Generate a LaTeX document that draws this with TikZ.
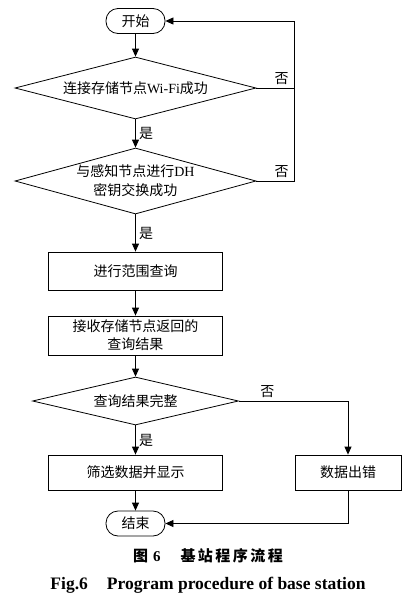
\documentclass[tikz,border=0pt]{standalone}
\usepackage{fontspec}
\setmainfont{Liberation Serif}
\newfontfamily\cjk{Noto Sans CJK SC}
\usetikzlibrary{shapes.geometric,arrows.meta}

\tikzset{
    terminal/.style={
           rectangle,
           rounded corners=12pt,
           draw=black, line width=0.8pt,
           minimum width=59pt,
           minimum height=25pt,
           inner sep=2pt,
           text centered,
           font=\cjk\fontsize{14}{18}\selectfont,
           },
    process/.style={
           rectangle,
           draw=black, line width=0.8pt,
           minimum width=174pt,
           minimum height=36pt,
           inner sep=2pt,
           align=center,
           font=\cjk\fontsize{14}{18}\selectfont,
           },
    decision/.style={
           diamond,
           aspect=3.8,
           draw=black, line width=0.8pt,
           inner sep=0pt,
           align=center,
           font=\cjk\fontsize{14}{19}\selectfont,
           },
    flowline/.style={
           draw=black, line width=0.8pt,
           -{Triangle[length=8pt,width=7pt]},
           },
    answer/.style={
           font=\cjk\fontsize{14}{17}\selectfont,
           },
}

\begin{document}
\begin{tikzpicture}[x=1pt,y=-1pt]
    \useasboundingbox (0,0) rectangle (411,606);

    % start and end of the procedure
    \node[terminal] (start) at (135.5,21) {开始};
    \node[terminal] (stop) at (135.5,523.5) {结束};

    % the two checks of the connection
    \node[decision,
    minimum width=241pt,	% from tip to tip
    minimum height=62pt] (wifi) at (135.5,88)
    {连接存储节点{\rmfamily Wi-Fi}成功};

    \node[decision,
    minimum width=241pt,
    minimum height=66pt] (dh) at (135.5,181)
    {与感知节点进行{\rmfamily DH}\\密钥交换成功};

    % query steps
    \node[process, minimum height=38pt] (query) at (135.5,271) {进行范围查询};
    \node[process, minimum height=39pt] (result) at (135.5,335.5) {接收存储节点返回的\\查询结果};

    \node[decision,
    minimum width=206pt,
    minimum height=48pt] (full) at (135.5,401)
    {查询结果完整};

    \node[process, minimum height=35pt] (show) at (135.5,472.5) {筛选数据并显示};
    \node[process, minimum height=35pt, minimum width=106pt] (error) at (348,472.5) {数据出错};

    % caption
    \node[font=\fontsize{15}{18}\selectfont\bfseries] (capcn) at (208,556)
    {{\cjk 图}\hspace{5pt}6\hspace{20pt}{\cjk 基\,站\,程\,序\,流\,程}};
    \node[font=\fontsize{17.5}{20}\selectfont\bfseries] (capen) at (208,585)
    {Fig.6\hspace{19pt}Program procedure of base station};

    % return line on the right
    \coordinate (back) at (294,0);

    % draw the paths
    \path[flowline] (start) -- (wifi);
    \path[flowline] (wifi) -- node[answer, right] {是} (dh);
    \path[flowline] (dh) -- node[answer, right] {是} (query);
    \path[flowline] (query) -- (result);
    \path[flowline] (result) -- (full);
    \path[flowline] (full) -- node[answer, right] {是} (show);
    \path[flowline] (show) -- (stop);

    \draw[line width=0.8pt] (wifi.east) -- node[answer, above, pos=0.67] {否} (wifi.east -| back);
    \path[flowline] (dh.east) -- node[answer, above, pos=0.67] {否} (dh.east -| back) |- (start.east);
    \path[flowline] (full.east) -- node[answer, above, pos=0.26] {否} (full.east -| error) -- (error.north);
    \path[flowline] (error.south) |- (stop.east);
\end{tikzpicture}
\end{document}
